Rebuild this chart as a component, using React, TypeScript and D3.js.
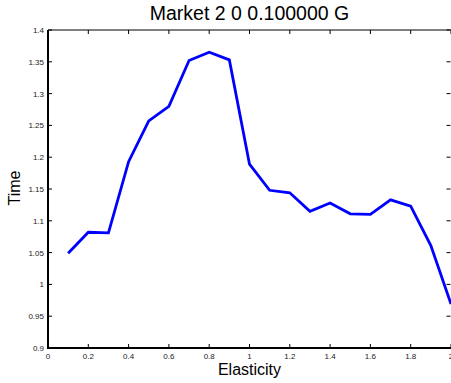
import React from "react";
import * as d3 from "d3";

const elasticity = [0.1, 0.2, 0.3, 0.4, 0.5, 0.6, 0.7, 0.8, 0.9, 1.0, 1.1, 1.2, 1.3, 1.4, 1.5, 1.6, 1.7, 1.8, 1.9, 2.0];
const timeValues = [1.049, 1.082, 1.081, 1.193, 1.257, 1.28, 1.352, 1.365, 1.353, 1.189, 1.148, 1.144, 1.115, 1.128, 1.111, 1.11, 1.133, 1.123, 1.061, 0.969];
const xTicks = [0, 0.2, 0.4, 0.6, 0.8, 1, 1.2, 1.4, 1.6, 1.8, 2];
const yTicks = [0.9, 0.95, 1, 1.05, 1.1, 1.15, 1.2, 1.25, 1.3, 1.35, 1.4];
const title = "Market 2 0 0.100000 G";
const xLabel = "Elasticity";
const yLabel = "Time";

const W = 451;
const H = 383;
const L = 48, R = 451, T = 30, B = 348;

export default function App() {
  const x = d3.scaleLinear().domain([0, 2]).range([L, R]);
  const y = d3.scaleLinear().domain([0.9, 1.4]).range([B, T]);
  const line = d3.line<number>().x((_, i) => x(elasticity[i])).y((d) => y(d));
  const font = "'Liberation Sans', Arial, Helvetica, sans-serif";
  const tk = 4;
  return (
    <svg width={W} height={H} style={{ position: "absolute", left: 0, top: 0, background: "#fff" }} fontFamily={font}>
      <rect x={0} y={0} width={W} height={H} fill="#fff" />
      <path d={line(timeValues) || ""} fill="none" stroke="#0000ff" strokeWidth={2.8} strokeLinejoin="miter" />
      {xTicks.map((t) => (
        <g key={"x" + t}>
          <line x1={x(t)} x2={x(t)} y1={B} y2={B - tk} stroke="#000" strokeWidth={1} />
          <line x1={x(t)} x2={x(t)} y1={T} y2={T + tk} stroke="#000" strokeWidth={1} />
          <text x={x(t)} y={359} fontSize={8} textAnchor="middle" fill="#222">{String(t)}</text>
        </g>
      ))}
      {yTicks.map((t) => (
        <g key={"y" + t}>
          <line x1={L} x2={L + tk} y1={y(t)} y2={y(t)} stroke="#000" strokeWidth={1} />
          <line x1={R - 0.5} x2={R - 0.5 - tk} y1={y(t)} y2={y(t)} stroke="#000" strokeWidth={1} />
          <text x={44} y={y(t) + 3} fontSize={8} textAnchor="end" fill="#222">{String(t)}</text>
        </g>
      ))}
      <line x1={L} x2={L} y1={T} y2={B + 1} stroke="#000" strokeWidth={2} />
      <line x1={L - 1} x2={R} y1={B} y2={B} stroke="#000" strokeWidth={2} />
      <line x1={L} x2={R} y1={T} y2={T} stroke="#000" strokeWidth={1} />
      <text x={249.5} y={20} fontSize={19.5} textAnchor="middle" fill="#000">{title}</text>
      <text x={249.5} y={375} fontSize={16} textAnchor="middle" fill="#000">{xLabel}</text>
      <text transform="translate(20,188) rotate(-90)" fontSize={16} textAnchor="middle" fill="#000">{yLabel}</text>
    </svg>
  );
}
